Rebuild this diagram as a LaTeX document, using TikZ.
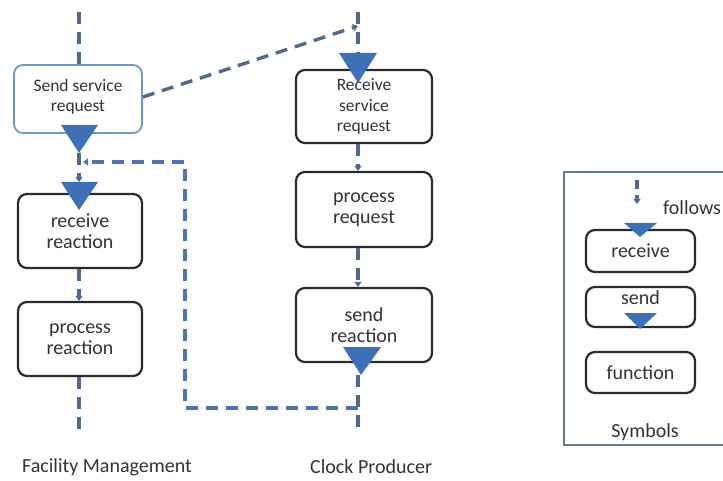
\documentclass[tikz,border=0pt]{standalone}
\usepackage{fontspec}
\setmainfont{Carlito}
\usetikzlibrary{arrows.meta}

\definecolor{flowblue}{HTML}{52688F}
\definecolor{loopblue}{HTML}{4D72B5}
\definecolor{evtblue}{HTML}{3E70B7}
\definecolor{boxline}{HTML}{2A2A2A}
\definecolor{txt}{HTML}{333333}
\definecolor{lightedge}{HTML}{6E97CF}
\definecolor{frameline}{HTML}{6A7897}

\tikzset{
  fn/.style={draw=boxline, line width=2.2pt, rounded corners=9pt, fill=white,
    align=center, text=txt, font=\fontsize{20}{21}\selectfont, inner sep=0pt},
  smalltext/.style={font=\fontsize{17.5}{20.5}\selectfont},
  flow/.style={draw=flowblue, line width=3.4pt, dash pattern=on 12pt off 8pt},
  loopflow/.style={draw=loopblue, line width=3.2pt, dash pattern=on 12pt off 8pt},
  tip/.style={-{Triangle[width=7pt,length=5pt]}},
  evt/.style={fill=evtblue, draw=none},
  lbl/.style={text=txt, font=\fontsize{20}{24}\selectfont, inner sep=0pt},
}

\begin{document}
\begin{tikzpicture}[x=1pt,y=-1pt]
\fill[white] (0,0) rectangle (723,481);
\useasboundingbox (0,0) rectangle (723,481);

% ---- Facility Management lane ----
\coordinate (fmtop) at (79,12);
\coordinate (fmbot) at (79,430);
\node[fn, draw=lightedge, line width=1.8pt, minimum width=128pt, minimum height=68pt]
  (ssr) at (78,99) {};
\node[fn, draw=none, fill=none, smalltext] (ssrtext) at (78,97) {Send service\\request};
\node[fn, minimum width=124pt, minimum height=74pt] (rr) at (80,231) {receive\\reaction};
\node[fn, minimum width=124pt, minimum height=74pt] (pr) at (80,339) {process\\reaction};

% send / receive events
\fill[evt] (61,125) -- (98,125) -- (79,153) -- cycle;
\coordinate (ssrtip) at (79,153);
\fill[evt] (61,182) -- (98,182) -- (79,210) -- cycle;
\coordinate (rrbase) at (79,182);

\draw[flow] (fmtop) -- (ssr.north -| fmtop);
\draw[flow, tip] (ssrtip) -- (rrbase);
\draw[flow, tip] (rr.south -| fmtop) -- (pr.north -| fmtop);
\draw[flow] (pr.south -| fmtop) -- (fmbot);

% ---- Clock Producer lane ----
\coordinate (cptop) at (358,12);
\coordinate (cpjoin) at (358,26);
\coordinate (cpbot) at (358,430);
\node[fn, smalltext, minimum width=136pt, minimum height=73pt] (rsr) at (364,106.5) {Receive\\service\\request};
\node[fn, minimum width=136pt, minimum height=75pt] (preq) at (364,209.5) {process\\request};
\node[fn, minimum width=136pt, minimum height=74pt] (sr) at (364,325) {send\\reaction};

\fill[evt] (339,53) -- (377,53) -- (358,83) -- cycle;
\coordinate (rsrbase) at (358,53);
\fill[evt] (343,347) -- (381,347) -- (361,375) -- cycle;
\coordinate (srtip) at (358,375);

\draw[flow] (cptop) -- (rsrbase);
\draw[flow, tip] (rsr.south -| cptop) -- (preq.north -| cptop);
\draw[flow, tip] (preq.south -| cptop) -- (sr.north -| cptop);
\draw[flow] (srtip) -- (cpbot);

% ---- messages between the lanes ----
\draw[flow, tip] (ssr.east) ++(0,-2) -- (cpjoin);
\coordinate (loopa) at (358,408);
\coordinate (loopb) at (185,408);
\coordinate (loopc) at (185,162);
\coordinate (loopd) at (83,162);
\draw[loopflow, tip] (loopa) -- (loopb) -- (loopc) -- (loopd);

% ---- lane titles ----
\node[lbl, anchor=west] (fmtitle) at (22,467) {Facility Management};
\node[lbl, anchor=west] (cptitle) at (310,467) {Clock Producer};

% ---- legend ----
\draw[frameline, line width=2pt] (564,172) rectangle (760,445);
\coordinate (lfa) at (637,180);
\coordinate (lfb) at (637,204);
\draw[flow, tip, dash pattern=on 9pt off 6pt] (lfa) -- (lfb);
\node[lbl, anchor=west] (lfollows) at (663,208) {follows};
\node[fn, minimum width=109pt, minimum height=42pt] (lrecv) at (640.5,251) {receive};
\fill[evt] (624,223) -- (657,223) -- (640,237) -- cycle;
\node[fn, minimum width=109pt, minimum height=40pt] (lsend) at (640.5,307) {};
\node[lbl] (lsendtext) at (640.5,298) {send};
\fill[evt] (624,313) -- (657,313) -- (640,329) -- cycle;
\node[fn, minimum width=109pt, minimum height=41pt] (lfunc) at (640.5,372.5) {function};
\node[lbl] (lsym) at (645,432) {Symbols};
\end{tikzpicture}
\end{document}
